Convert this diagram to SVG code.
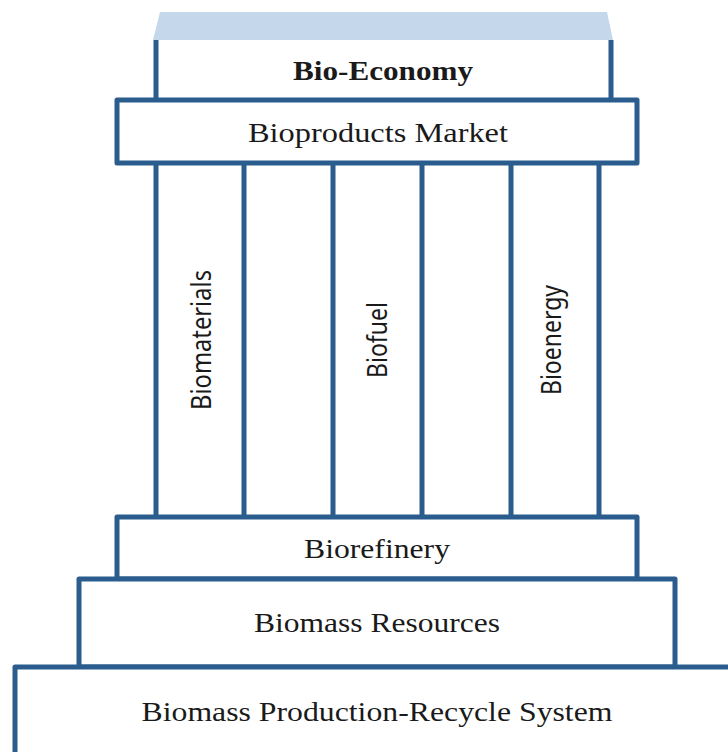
<svg xmlns="http://www.w3.org/2000/svg" width="728" height="752" viewBox="0 0 728 752">
<style>
.box{fill:#ffffff;stroke:#2a5c8e;stroke-width:5;stroke-linejoin:round}
.ln{fill:none;stroke:#2a5c8e;stroke-width:5}
.t{font-family:"Liberation Serif","DejaVu Serif",serif;font-size:28px;fill:#1a1a1a;text-anchor:middle}
.v{font-family:"Noto Sans","Liberation Sans",sans-serif;font-size:27px;fill:#1a1a1a;text-anchor:middle}
</style>
<rect width="728" height="752" fill="#ffffff"/>
<g id="bio-economy">
<polygon points="160,12 607,12 613,40 153,40" fill="#c4d7eb"/>
<path class="ln" d="M156,40 V100 M611,40 V100"/>
<text class="t" x="383" y="80" font-weight="bold" textLength="180" lengthAdjust="spacingAndGlyphs">Bio-Economy</text>
</g>
<g id="columns">
<path class="ln" d="M156,163 V517 M244,163 V517 M333,163 V517 M422,163 V517 M511,163 V517 M599,163 V517"/>
</g>
<g id="bioproducts-market">
<rect class="box" x="117" y="100" width="520" height="63"/>
<text class="t" x="378" y="142" textLength="260" lengthAdjust="spacingAndGlyphs">Bioproducts Market</text>
</g>
<g id="biomaterials">
<text class="v" x="211" y="340" transform="rotate(-90 211 340)" textLength="140" lengthAdjust="spacingAndGlyphs">Biomaterials</text>
</g>
<g id="biofuel">
<text class="v" x="387" y="340" transform="rotate(-90 387 340)" textLength="76" lengthAdjust="spacingAndGlyphs">Biofuel</text>
</g>
<g id="bioenergy">
<text class="v" x="561" y="340" transform="rotate(-90 561 340)" textLength="110" lengthAdjust="spacingAndGlyphs">Bioenergy</text>
</g>
<g id="biorefinery">
<rect class="box" x="117" y="517" width="520" height="62"/>
<text class="t" x="377" y="558" textLength="146" lengthAdjust="spacingAndGlyphs">Biorefinery</text>
</g>
<g id="biomass-resources">
<rect class="box" x="79" y="579" width="596" height="88"/>
<text class="t" x="377" y="632" textLength="246" lengthAdjust="spacingAndGlyphs">Biomass Resources</text>
</g>
<g id="biomass-production-recycle-system">
<rect class="box" x="15" y="667" width="720" height="95"/>
<text class="t" x="377" y="721" textLength="471" lengthAdjust="spacingAndGlyphs">Biomass Production-Recycle System</text>
</g>
</svg>
